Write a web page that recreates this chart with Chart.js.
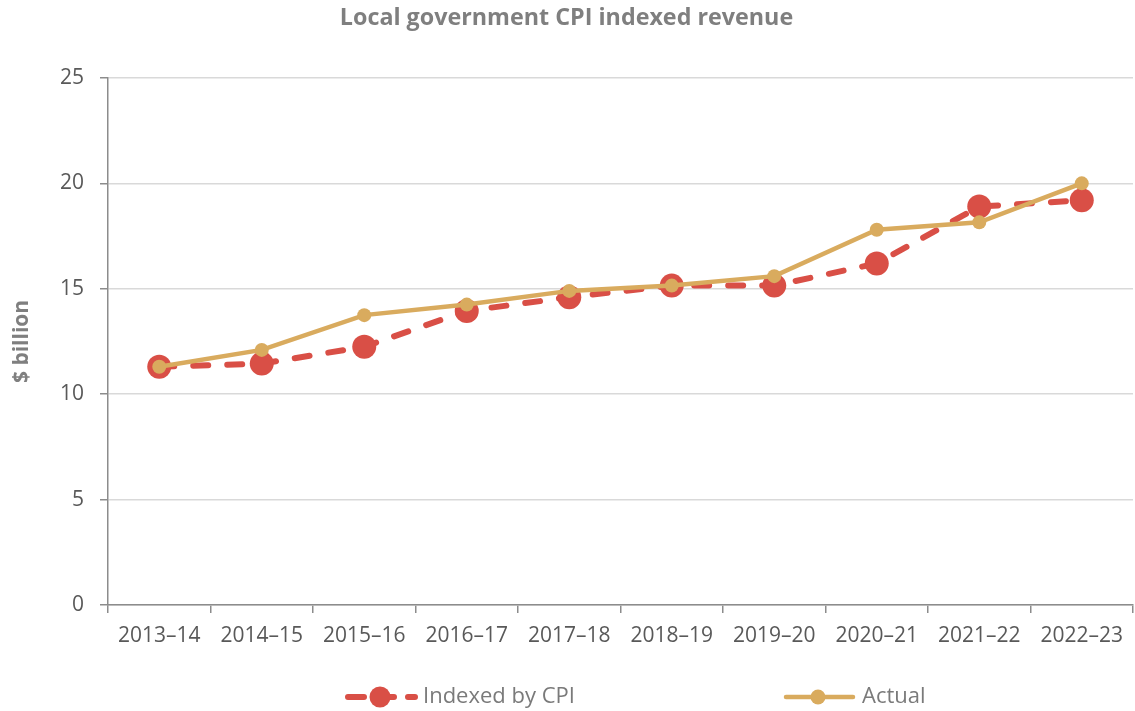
<!DOCTYPE html>
<html>
<head>
<meta charset="utf-8">
<script src="https://cdn.jsdelivr.net/npm/chart.js@4.4.1/dist/chart.umd.min.js"></script>
<style>
  body { margin: 0; background: #ffffff; }
  #wrap { width: 1135px; height: 711px; }
</style>
</head>
<body>
<div id="wrap"><canvas id="cpiChart" width="1135" height="711"></canvas></div>
<script>
// --- Data ---
const years = ['2013–14', '2014–15', '2015–16', '2016–17', '2017–18',
               '2018–19', '2019–20', '2020–21', '2021–22', '2022–23'];
const indexedByCpi = [11.3, 11.45, 12.25, 13.95, 14.6, 15.15, 15.15, 16.2, 18.9, 19.2];
const actual       = [11.3, 12.1, 13.75, 14.25, 14.9, 15.15, 15.6, 17.8, 18.15, 20.0];
const yTickValues  = [0, 5, 10, 15, 20, 25];

const RED = '#d94f46';
const GOLD = '#d9ab5e';
const FONT = "'Open Sans', 'Liberation Sans', sans-serif";

// --- Legend drawn under the plot, Excel style (line + marker) ---
const bottomLegend = {
    id: 'bottomLegend',
    afterDraw(chart) {
        const ctx = chart.ctx;
        const y = 697;
        const items = [
            { ds: chart.data.datasets[0], x0: 348, x1: 415, dash: [16, 14], mx: 380, r: 10.5, tx: 423 },
            { ds: chart.data.datasets[1], x0: 786, x1: 853, dash: [],       mx: 818, r: 7.5,  tx: 862 }
        ];
        ctx.save();
        items.forEach(it => {
            const ds = it.ds;
            ctx.beginPath();
            ctx.strokeStyle = ds.borderColor;
            ctx.lineWidth = ds.borderWidth;
            ctx.lineCap = 'round';
            ctx.setLineDash(it.dash);
            ctx.moveTo(it.x0, y);
            ctx.lineTo(it.x1, y);
            ctx.stroke();
            ctx.setLineDash([]);
            ctx.beginPath();
            ctx.fillStyle = ds.pointBackgroundColor;
            ctx.arc(it.mx, y, it.r, 0, Math.PI * 2);
            ctx.fill();
            ctx.fillStyle = '#7a7a7a';
            ctx.font = '22px ' + FONT;
            ctx.textBaseline = 'middle';
            ctx.textAlign = 'left';
            ctx.fillText(ds.label, it.tx, y);
        });
        ctx.restore();
    }
};

const ctx = document.getElementById('cpiChart').getContext('2d');

new Chart(ctx, {
    type: 'line',
    data: {
        labels: years,
        datasets: [
            {
                label: 'Indexed by CPI',
                data: indexedByCpi,
                borderColor: RED,
                backgroundColor: RED,
                borderWidth: 6,
                borderDash: [15, 19],
                borderCapStyle: 'round',
                pointRadius: 12,
                pointBackgroundColor: RED,
                pointBorderWidth: 0,
                tension: 0,
                order: 2
            },
            {
                label: 'Actual',
                data: actual,
                borderColor: GOLD,
                backgroundColor: GOLD,
                borderWidth: 4.5,
                pointRadius: 7,
                pointBackgroundColor: GOLD,
                pointBorderWidth: 0,
                tension: 0,
                order: 1
            }
        ]
    },
    options: {
        responsive: false,
        animation: false,
        events: [],
        layout: { autoPadding: false, padding: { left: 0, right: 2, top: 0, bottom: 63 } },
        plugins: {
            legend: { display: false },
            tooltip: { enabled: false },
            title: {
                display: true,
                text: 'Local government CPI indexed revenue',
                color: '#7f7f7f',
                font: { family: FONT, size: 23.3, weight: 'bold' },
                padding: { top: 4, bottom: 46 }
            }
        },
        scales: {
            x: {
                offset: true,
                grid: {
                    offset: true,
                    drawOnChartArea: false,
                    drawTicks: true,
                    tickLength: 8,
                    tickColor: '#8c8c8c',
                    lineWidth: 1.5
                },
                border: { color: '#8c8c8c', width: 1.5 },
                ticks: {
                    color: '#595959',
                    font: { family: FONT, size: 21 },
                    padding: 10,
                    maxRotation: 0,
                    autoSkip: false
                },
                afterFit: s => { s.height = 43; }
            },
            y: {
                min: yTickValues[0],
                max: yTickValues[yTickValues.length - 1],
                afterBuildTicks: s => { s.ticks = yTickValues.map(v => ({ value: v })); },
                grid: {
                    color: '#d9d9d9',
                    lineWidth: 1.5,
                    tickLength: 8,
                    tickColor: '#8c8c8c'
                },
                border: { color: '#8c8c8c', width: 1.5 },
                ticks: {
                    color: '#595959',
                    font: { family: FONT, size: 21 },
                    padding: 16
                },
                title: {
                    display: true,
                    text: '$ billion',
                    color: '#7f7f7f',
                    font: { family: FONT, size: 21, weight: 'bold' },
                    padding: { top: 9, bottom: 0 }
                },
                afterFit: s => { s.width = 108; }
            }
        }
    },
    plugins: [bottomLegend]
});
</script>
</body>
</html>
